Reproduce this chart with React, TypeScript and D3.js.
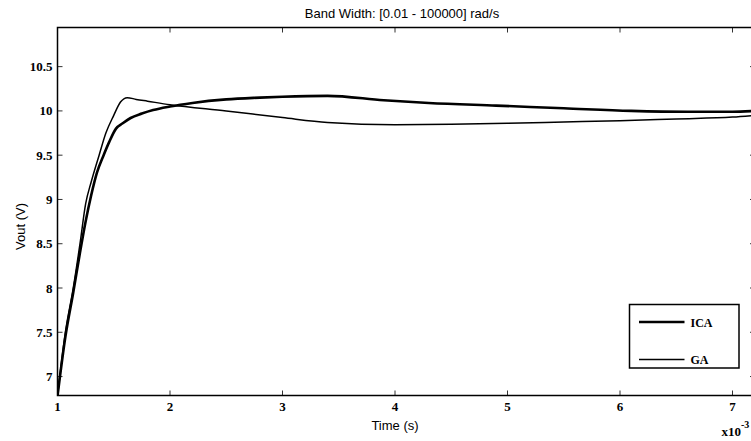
import React from "react";
import * as d3 from "d3";

// time in ms (axis shows x10^-3), Vout in volts
const icaTime = [1.0, 1.07, 1.14, 1.2, 1.25, 1.3, 1.35, 1.41, 1.46, 1.52, 1.58, 1.65, 1.75, 1.85, 2.0, 2.2, 2.5, 2.8, 3.0, 3.4, 3.9, 4.3, 4.9, 5.5, 6.1, 6.6, 7.0, 7.2];
const icaVout = [6.78, 7.45, 7.95, 8.4, 8.75, 9.05, 9.3, 9.5, 9.65, 9.8, 9.86, 9.92, 9.97, 10.01, 10.05, 10.09, 10.13, 10.15, 10.16, 10.17, 10.12, 10.09, 10.06, 10.03, 10.0, 9.99, 9.99, 10.0];

const gaTime = [1.0, 1.07, 1.14, 1.2, 1.25, 1.3, 1.37, 1.43, 1.5, 1.56, 1.62, 1.7, 1.8, 2.0, 2.5, 3.0, 3.4, 4.0, 4.5, 5.0, 5.5, 6.0, 6.5, 7.0, 7.2];
const gaVout = [6.78, 7.5, 8.0, 8.5, 8.95, 9.2, 9.5, 9.75, 9.95, 10.1, 10.15, 10.13, 10.11, 10.07, 10.0, 9.925, 9.87, 9.845, 9.85, 9.86, 9.875, 9.89, 9.91, 9.93, 9.95];

const xTicks = [1, 2, 3, 4, 5, 6, 7];
const yTicks = [7, 7.5, 8, 8.5, 9, 9.5, 10, 10.5];
const seriesNames = ["ICA", "GA"];

const width = 751;
const height = 441;
const margin = { top: 27.5, right: -4, bottom: 45.5, left: 57.5 };

const serif = "'Liberation Serif', 'Times New Roman', serif";
const sans = "'Liberation Sans', Arial, sans-serif";

export default function App() {
  const plotW = width - margin.left - margin.right;
  const plotH = height - margin.top - margin.bottom;

  const x = d3.scaleLinear().domain([1, 7.2]).range([0, plotW]);
  const y = d3.scaleLinear().domain([6.786, 10.942]).range([plotH, 0]);

  const line = d3
    .line<[number, number]>()
    .x((d) => x(d[0]))
    .y((d) => y(d[1]))
    .curve(d3.curveMonotoneX);

  const ica = icaTime.map((t, i) => [t, icaVout[i]] as [number, number]);
  const ga = gaTime.map((t, i) => [t, gaVout[i]] as [number, number]);

  const tick = 5;

  return (
    <svg
      width={width}
      height={height}
      style={{ position: "absolute", left: 0, top: 0, background: "#fff" }}
    >
      <text x={402} y={18} textAnchor="middle" fontFamily={sans} fontSize={13}>
        Band Width: [0.01 - 100000] rad/s
      </text>

      <g transform={`translate(${margin.left}, ${margin.top})`}>
        <defs>
          <clipPath id="plot-clip">
            <rect x={0} y={0} width={plotW} height={plotH} />
          </clipPath>
        </defs>

        {/* ticks, inward on all four sides */}
        <g stroke="#333" strokeWidth={1}>
          {xTicks.map((t) => (
            <g key={`xt${t}`}>
              <line x1={x(t)} x2={x(t)} y1={plotH} y2={plotH - tick} />
              <line x1={x(t)} x2={x(t)} y1={0} y2={tick} />
            </g>
          ))}
          {yTicks.map((v) => (
            <g key={`yt${v}`}>
              <line x1={0} x2={tick} y1={y(v)} y2={y(v)} />
              <line x1={plotW} x2={plotW - tick} y1={y(v)} y2={y(v)} />
            </g>
          ))}
        </g>

        <g clipPath="url(#plot-clip)" fill="none" stroke="#000" strokeLinejoin="round">
          <path d={line(ga) ?? ""} strokeWidth={1.5} />
          <path d={line(ica) ?? ""} strokeWidth={2.6} />
        </g>

        <rect x={0} y={0} width={plotW} height={plotH} fill="none" stroke="#000" strokeWidth={1.5} />

        {xTicks.map((t) => (
          <text
            key={`xl${t}`}
            x={x(t)}
            y={plotH + 15}
            textAnchor="middle"
            fontFamily={serif}
            fontWeight="bold"
            fontSize={13}
          >
            {t}
          </text>
        ))}
        {yTicks.map((v) => (
          <text
            key={`yl${v}`}
            x={-5}
            y={y(v) + 4.5}
            textAnchor="end"
            fontFamily={serif}
            fontWeight="bold"
            fontSize={13}
          >
            {v}
          </text>
        ))}

        <text x={x(4)} y={plotH + 34} textAnchor="middle" fontFamily={sans} fontSize={13}>
          Time (s)
        </text>
        <text
          transform={`translate(${-33}, ${plotH / 2 + 15}) rotate(-90)`}
          textAnchor="middle"
          fontFamily={sans}
          fontSize={13}
        >
          Vout (V)
        </text>

        <text x={664} y={plotH + 40} fontFamily={serif} fontWeight="bold" fontSize={13}>
          x10
          <tspan dy={-8} fontSize={10}>-3</tspan>
        </text>

        {/* legend */}
        <g transform={`translate(${629.5 - margin.left}, ${304.5 - margin.top})`}>
          <rect x={0} y={0} width={109.5} height={63.5} fill="#fff" stroke="#000" strokeWidth={1.5} />
          {seriesNames.map((name, i) => (
            <g key={name} transform={`translate(0, ${17.5 + i * 37.5})`}>
              <line x1={9.5} x2={55} y1={0} y2={0} stroke="#000" strokeWidth={i === 0 ? 2.6 : 1.5} />
              <text x={61} y={4.5} fontFamily={serif} fontWeight="bold" fontSize={12}>
                {name}
              </text>
            </g>
          ))}
        </g>
      </g>
    </svg>
  );
}
